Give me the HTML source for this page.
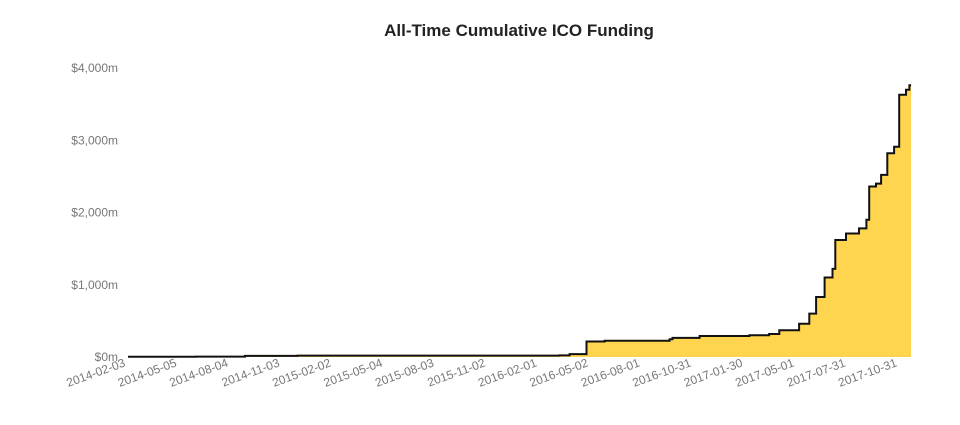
<!DOCTYPE html>
<html><head><meta charset="utf-8"><style>
body{margin:0;background:#fff;width:960px;height:420px;overflow:hidden;font-family:"Liberation Sans",sans-serif}
</style></head><body>
<svg id="chart" width="960" height="420" xmlns="http://www.w3.org/2000/svg">
<text x="519" y="36" text-anchor="middle" font-size="17" font-weight="bold" fill="#222">All-Time Cumulative ICO Funding</text>
<g id="yaxis"></g>
<g id="xaxis"></g>
<g id="series"></g>
</svg>
<script>
const tickDays=[0,91,182,273,364,455,546,637,728,819,910,1001,1092,1183,1274,1365];
const tickLabels=["2014-02-03","2014-05-05","2014-08-04","2014-11-03","2015-02-02","2015-05-04","2015-08-03","2015-11-02","2016-02-01","2016-05-02","2016-08-01","2016-10-31","2017-01-30","2017-05-01","2017-07-31","2017-10-31"];
const yTicks=[0,1000,2000,3000,4000];
const yTickLabels=["$0m","$1,000m","$2,000m","$3,000m","$4,000m"];
const days=[0,120,207,300,763,781,811,843,958,963,1011,1099,1134,1152,1187,1205,1217,1232,1246,1251,1270,1293,1306,1311,1323,1332,1343,1355,1364,1376,1382];
const values=[3,6,15,20,22,40,215,225,245,265,290,300,318,370,460,600,830,1100,1220,1620,1710,1780,1900,2360,2400,2520,2820,2910,3630,3700,3760];
const endDay=1385;
const NS="http://www.w3.org/2000/svg";
const x=d=>128+(d/91)*51.45;
const y=v=>357-v*(289/4000);
const yg=document.getElementById('yaxis'),xg=document.getElementById('xaxis'),sg=document.getElementById('series');
yTicks.forEach((v,i)=>{const t=document.createElementNS(NS,'text');


t.setAttribute('x',118);t.setAttribute('y',y(v)+4);t.setAttribute('text-anchor','end');t.setAttribute('font-size','12');t.setAttribute('fill','#777');t.textContent=yTickLabels[i];yg.appendChild(t);});
tickDays.forEach((d,i)=>{const t=document.createElementNS(NS,'text');


const px=x(d)-2,py=366;t.setAttribute('x',px);t.setAttribute('y',py);t.setAttribute('text-anchor','end');t.setAttribute('font-size','12');t.setAttribute('fill','#777');t.setAttribute('transform','rotate(-20 '+px+' '+py+')');t.textContent=tickLabels[i];xg.appendChild(t);});
let pts=[];
for(let i=0;i<days.length;i++){const nd=i+1<days.length?days[i+1]:endDay;pts.push([x(days[i]),y(values[i])]);pts.push([x(nd),y(values[i])]);}
const line=pts.map((p,i)=>(i?'L':'M')+p[0].toFixed(1)+' '+p[1].toFixed(1)).join(' ');
const area=document.createElementNS(NS,'path');


area.setAttribute('d',line+' L'+x(endDay)+' '+y(0)+' L'+x(0)+' '+y(0)+' Z');area.setAttribute('fill','#ffd54f');sg.appendChild(area);
const ln=document.createElementNS(NS,'path');


ln.setAttribute('d',line);ln.setAttribute('fill','none');ln.setAttribute('stroke','#111');ln.setAttribute('stroke-width','2');sg.appendChild(ln);
</script>
</body></html>
